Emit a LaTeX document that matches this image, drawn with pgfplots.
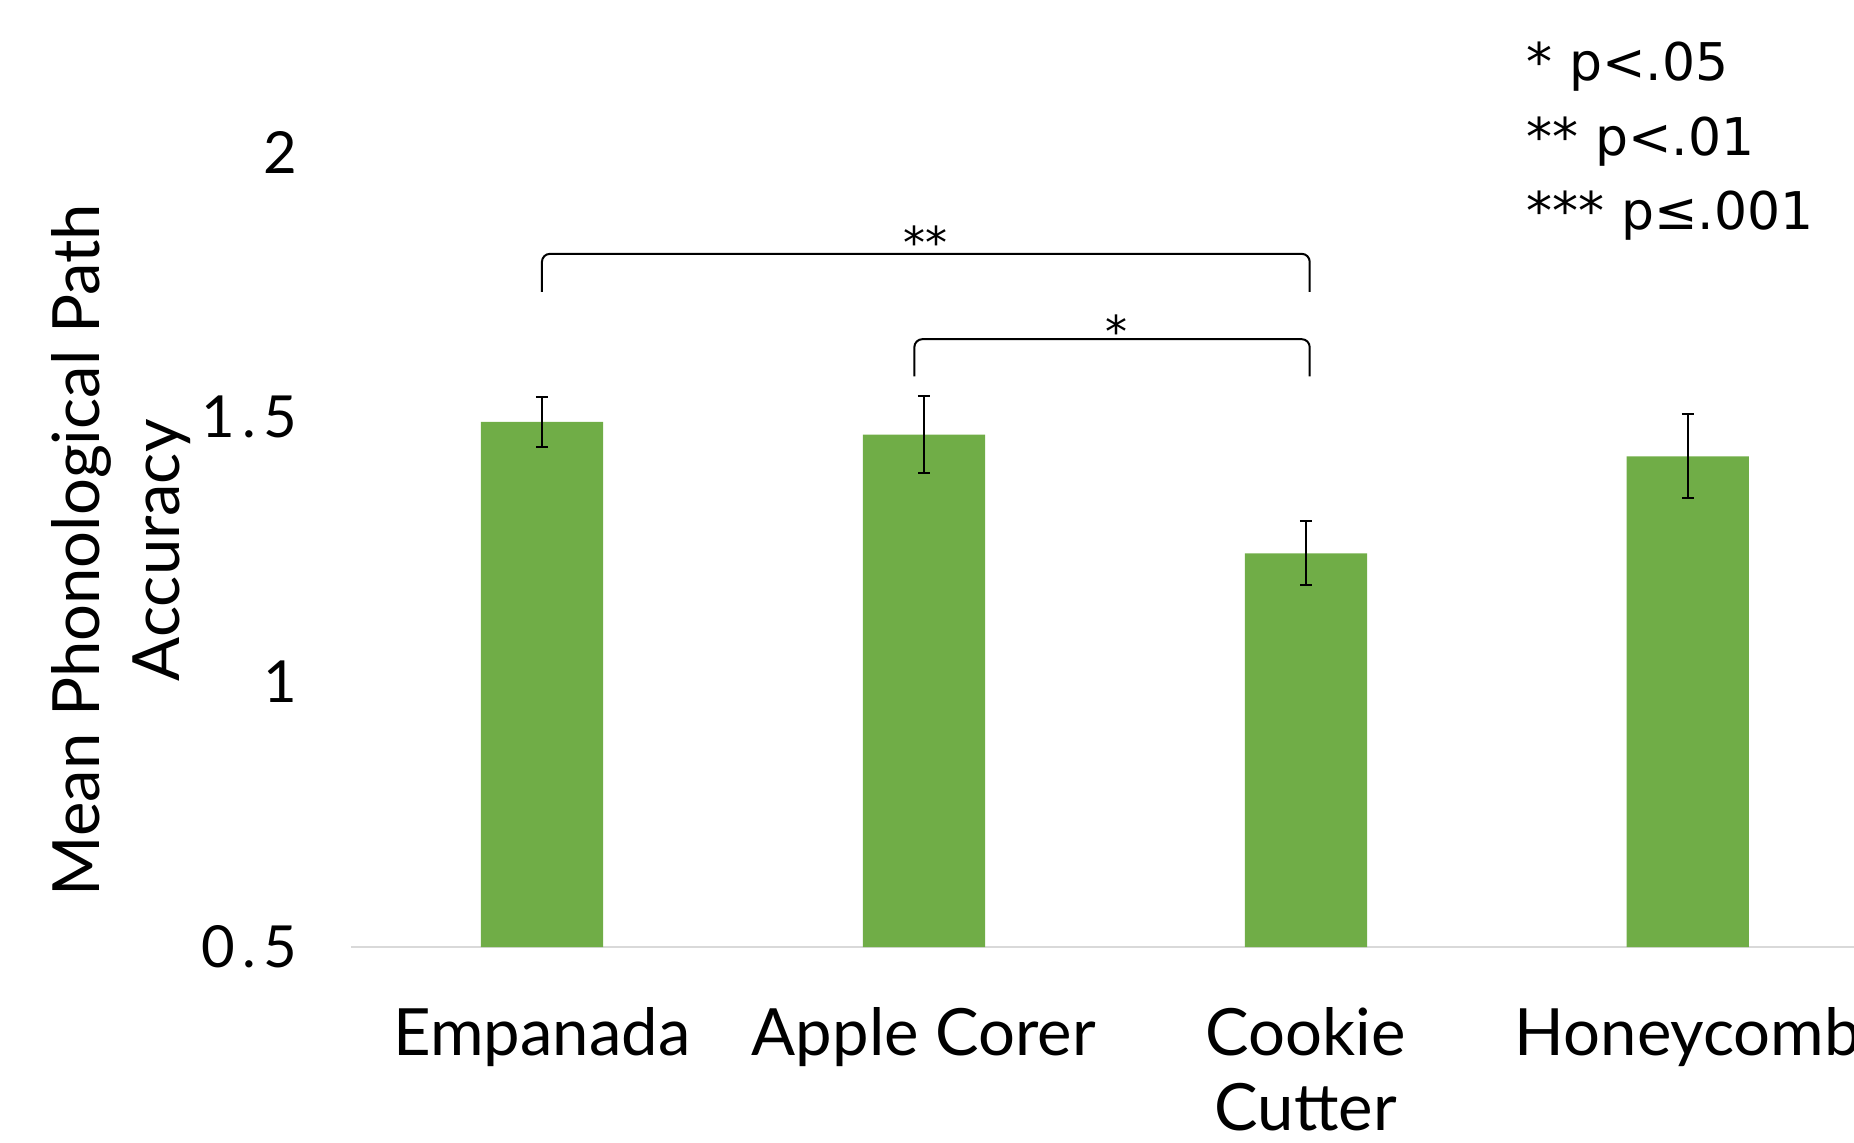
\documentclass[border=0pt]{standalone}
\usepackage{fontspec}
\setmainfont{Lato}
\newfontfamily\dejavu{DejaVu Sans}
\usepackage{pgfplots}
\pgfplotsset{compat=1.18}
\definecolor{barGreen}{HTML}{70AD47}
\definecolor{axGray}{HTML}{D9D9D9}

\begin{document}
\begin{tikzpicture}
\begin{axis}[
    x=95.5pt, y=132.5pt,
    xmin=-0.5, xmax=3.435,
    ymin=0.5, ymax=2.287,
    axis x line*=bottom, axis y line*=left,
    x axis line style={axGray, line width=0.6pt},
    y axis line style={draw=none},
    tick style={draw=none},
    major tick length=0pt,
    xtick={0,1,2,3},
    xticklabels={Empanada, Apple Corer, Cookie\\Cutter, Honeycomb},
    xticklabel style={align=center, font=\fontsize{16.3}{18.75}\selectfont, yshift=-11.5pt},
    ytick={0.5,1,1.5,2},
    yticklabel style={font=\fontsize{14.5}{17}\selectfont\addfontfeatures{LetterSpace=12}, xshift=-10pt},
    /pgf/number format/assume math mode=true,
    ylabel={Mean Phonological Path\\Accuracy},
    ylabel style={align=center, font=\fontsize{16.3}{20}\selectfont,
        at={(axis description cs:-0.153,0.419)}, anchor=center},
]
% bars with error bars
\addplot[ybar, bar width=0.32, fill=barGreen, draw=none,
    error bars/.cd, y dir=both, y explicit,
    error bar style={black, line width=0.5pt},
    error mark options={rotate=90, mark size=1.5pt, black, line width=0.5pt}]
    table[x=x, y=y, y error=e] {
x y e
0 1.491 0.047
1 1.467 0.072
2 1.243 0.060
3 1.426 0.079
};

% significance brackets
\addplot[sharp plot, black, line width=0.5pt, rounded corners=2pt, forget plot]
    coordinates {(0,1.736) (0,1.808) (2.01,1.808) (2.01,1.736)};
\addplot[sharp plot, black, line width=0.5pt, rounded corners=2pt, forget plot]
    coordinates {(0.975,1.577) (0.975,1.647) (2.01,1.647) (2.01,1.577)};

\node[anchor=base, font=\dejavu\fontsize{11}{13}\selectfont] at (axis cs:1.005,1.80) {**};
\node[anchor=base, font=\dejavu\fontsize{11}{13}\selectfont] at (axis cs:1.503,1.631) {*};

% p-value key
\node[anchor=base west, font=\dejavu\fontsize{13}{17}\selectfont, inner sep=0pt] at (axis cs:2.576,2.135) {* p<.05};
\node[anchor=base west, font=\dejavu\fontsize{13}{17}\selectfont, inner sep=0pt] at (axis cs:2.576,1.994) {** p<.01};
\node[anchor=base west, font=\dejavu\fontsize{13}{17}\selectfont, inner sep=0pt] at (axis cs:2.576,1.853) {*** p≤.001};

\coordinate (bl) at (rel axis cs:0,0);
\coordinate (tr) at (rel axis cs:1,1);
\end{axis}
\pgfresetboundingbox
\path ([xshift=-87.75pt,yshift=-48.75pt]bl) rectangle (tr);
\end{tikzpicture}
\end{document}
